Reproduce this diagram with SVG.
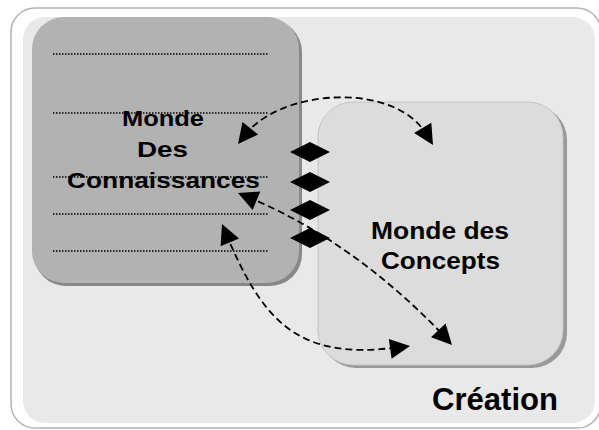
<svg xmlns="http://www.w3.org/2000/svg" width="599" height="430" viewBox="0 0 599 430">
<style>
.t{font-family:"Liberation Sans",Arial,sans-serif;font-weight:bold;fill:#000}
.dot{stroke:#000;stroke-width:1.4;stroke-dasharray:1.5,1.5;fill:none}
.link{fill:none;stroke:#000;stroke-width:1.8;stroke-dasharray:7,4}
.head{fill:#000}
.dia{fill:#000}
</style>
<rect x="0" y="0" width="599" height="430" fill="#fff"/>
<g id="frame">
<rect x="11" y="8" width="590" height="420" rx="24" fill="#fff" stroke="#b4b4b4" stroke-width="1.5"/>
<rect x="23" y="17" width="572" height="406" rx="22" fill="#e9e9e9"/>
</g>
<g id="monde-connaissances">
<rect x="34" y="20" width="268" height="266" rx="32" fill="#888"/>
<rect x="32" y="17" width="267" height="266" rx="32" fill="#b2b2b2"/>
<line class="dot" x1="53" y1="54" x2="268" y2="54"/>
<line class="dot" x1="53" y1="113" x2="268" y2="113"/>
<line class="dot" x1="53" y1="177" x2="268" y2="177"/>
<line class="dot" x1="53" y1="214" x2="268" y2="214"/>
<line class="dot" x1="53" y1="251" x2="268" y2="251"/>
<text class="t" font-size="22" x="122" y="126" textLength="82" lengthAdjust="spacingAndGlyphs">Monde</text>
<text class="t" font-size="22" x="137" y="157" textLength="51" lengthAdjust="spacingAndGlyphs">Des</text>
<text class="t" font-size="22" x="67" y="188" textLength="193" lengthAdjust="spacingAndGlyphs">Connaissances</text>
</g>
<g id="monde-concepts">
<rect x="321" y="105" width="246" height="263" rx="35" fill="#999"/>
<rect x="318" y="102" width="245" height="263" rx="35" fill="#dcdcdc" stroke="#c4c4c4" stroke-width="1"/>
<text class="t" font-size="23" x="371" y="239" textLength="138" lengthAdjust="spacingAndGlyphs">Monde des</text>
<text class="t" font-size="23" x="381" y="269" textLength="119" lengthAdjust="spacingAndGlyphs">Concepts</text>
</g>
<g id="creation">
<text class="t" font-size="31" x="432" y="410" textLength="126" lengthAdjust="spacingAndGlyphs">Création</text>
</g>
<g id="connectors">
<path class="link" d="M245,135 C 282,88 395,82 426,134"/>
<polygon class="head" points="238,144 258.2,134.5 242.5,122.1"/>
<polygon class="head" points="433,145 431.3,122.7 414.1,133.1"/>
<path class="link" d="M248,197 Q 355,242 445,337"/>
<polygon class="head" points="238,193 252.6,209.9 260.3,191.5"/>
<polygon class="head" points="452,345 445.6,323.6 431.0,337.3"/>
<path class="link" d="M226,234 C 262,318 295,362 400,347"/>
<polygon class="head" points="222,224 220.6,246.3 239.0,238.5"/>
<polygon class="head" points="410,346 388.8,338.9 391.6,358.7"/>
<polygon class="dia" points="290,152 310,142 330,152 310,162"/>
<polygon class="dia" points="290,182 310,172 330,182 310,192"/>
<polygon class="dia" points="290,210 310,200 330,210 310,220"/>
<polygon class="dia" points="290,238 310,228 330,238 310,248"/>
</g>
</svg>
